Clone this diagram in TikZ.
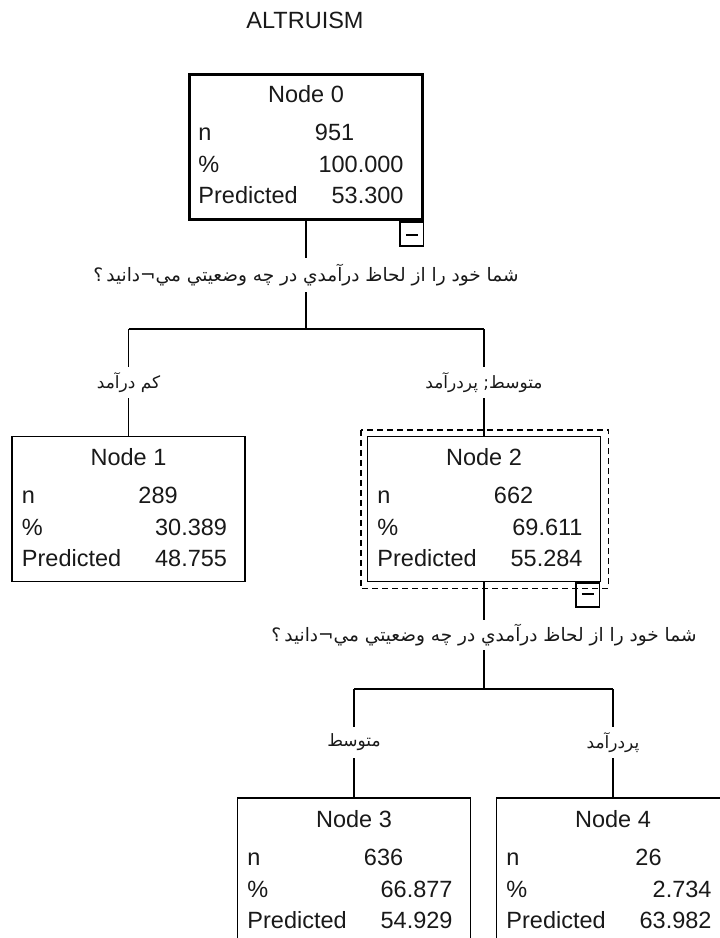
\documentclass[tikz,border=0pt]{standalone}
\usepackage{fontspec}
\setmainfont{Liberation Sans}
\newfontfamily\arfont[Script=Arabic]{DejaVu Sans}
\TeXXeTstate=1
\usetikzlibrary{calc}
\tikzset{
  box/.style={draw=black, line width=1.5pt, minimum width=233pt, minimum height=145pt, inner sep=0pt},
  rootbox/.style={box, line width=3.5pt},
  tt/.style={font=\fontsize{23.5}{26}\selectfont, inner sep=0pt, text=black!90},
  cond/.style={font=\arfont\fontsize{17}{20}\selectfont, inner sep=0pt, text=black!90},
  question/.style={cond, font=\arfont\fontsize{18.5}{20}\selectfont},
  conn/.style={line width=1.5pt, draw=black},
  selbox/.style={line width=1.5pt, draw=black, dash pattern=on 6pt off 4pt},
  minusbox/.style={draw=black, line width=1.5pt, minimum width=23.5pt, minimum height=24pt, inner sep=0pt},
  minusbar/.style={line width=1.5pt, draw=black}
}
\newcommand\treenode[9]{%
  \node[#8] (#1) at (#2,#3) {};
  \node[tt, anchor=base] (#1t) at ($(#1.north)+(0,30)$) {#4};
  \node[tt, anchor=base west] (#1a) at ($(#1.north west)+(10.5,68)$) {n};
  \node[tt, anchor=base west] (#1b) at ($(#1.north west)+(#9,68)$) {#5};
  \node[tt, anchor=base west] (#1c) at ($(#1.north west)+(10.5,100)$) {\%};
  \node[tt, anchor=base east] (#1d) at ($(#1.north west)+(216,100)$) {#6};
  \node[tt, anchor=base west] (#1e) at ($(#1.north west)+(10.5,131)$) {Predicted};
  \node[tt, anchor=base east] (#1f) at ($(#1.north west)+(216,131)$) {#7};
}
\begin{document}
\begin{tikzpicture}[x=1pt, y=-1pt]
\useasboundingbox (0,0) rectangle (720,938);
\fill[white] (0,0) rectangle (720,938);

\node[tt, anchor=base] (title) at (305,28.5) {ALTRUISM};

\treenode{n0}{306}{147}{Node 0}{951}{100.000}{53.300}{rootbox}{127}
\treenode{n1}{128.5}{509}{Node 1}{289}{30.389}{48.755}{box}{127}
\treenode{n2}{484}{509}{Node 2}{662}{69.611}{55.284}{box}{127}
\treenode{n3}{354}{870.5}{Node 3}{636}{66.877}{54.929}{box}{127}
\treenode{n4}{613}{870.5}{Node 4}{26}{2.734}{63.982}{box}{139.5}

% selection frame around node 2
\draw[selbox] ($(n2.north west)+(-6,-6)$) rectangle ($(n2.south east)+(7,6)$);

% collapse boxes
\node[minusbox, anchor=north east] (m0) at (n0.south east) {};
\draw[minusbar] ($(m0.center)+(-6,1)$) -- ($(m0.center)+(6,1)$);
\node[minusbox, anchor=north east] (m2) at ($(n2.south east)+(-1,0)$) {};
\draw[minusbar] ($(m2.center)+(-6,-1)$) -- ($(m2.center)+(6,-1)$);

% split labels
\node[question, minimum height=34pt] (q0) at (306,275)
  {\beginR شما خود را از لحاظ درآمدي در چه وضعيتي مي¬دانيد\,؟\endR};
\node[cond, minimum height=31pt] (l1) at (128.5,382.5) {\beginR كم درآمد\endR};
\node[cond, minimum height=31pt] (l2) at (484,382.5) {\beginR متوسط; پردرآمد\endR};
\node[question, minimum height=30pt] (q2) at (484,635)
  {\beginR شما خود را از لحاظ درآمدي در چه وضعيتي مي¬دانيد\,؟\endR};
\node[cond, minimum height=31pt] (l3) at (354,742.5) {\beginR متوسط\endR};
\node[cond, minimum height=31pt] (l4) at (613,742.5) {\beginR پردرآمد\endR};

% junctions
\coordinate (b0) at (306,329);
\coordinate (b0l) at (128.5,329);
\coordinate (b0r) at (484,329);
\coordinate (b2) at (484,689);
\coordinate (b2l) at (354,689);
\coordinate (b2r) at (613,689);

% connectors
\draw[conn] (n0) -- (q0);
\draw[conn] (q0) -- (b0);
\draw[conn] (b0l) -- (b0r);
\draw[conn] (b0l) -- (l1);
\draw[conn] (l1) -- (n1);
\draw[conn] (b0r) -- (l2);
\draw[conn] (l2) -- (n2);
\draw[conn] (n2) -- (q2);
\draw[conn] (q2) -- (b2);
\draw[conn] (b2l) -- (b2r);
\draw[conn] (b2l) -- (l3);
\draw[conn] (l3) -- (n3);
\draw[conn] (b2r) -- (l4);
\draw[conn] (l4) -- (n4);
\end{tikzpicture}
\end{document}
